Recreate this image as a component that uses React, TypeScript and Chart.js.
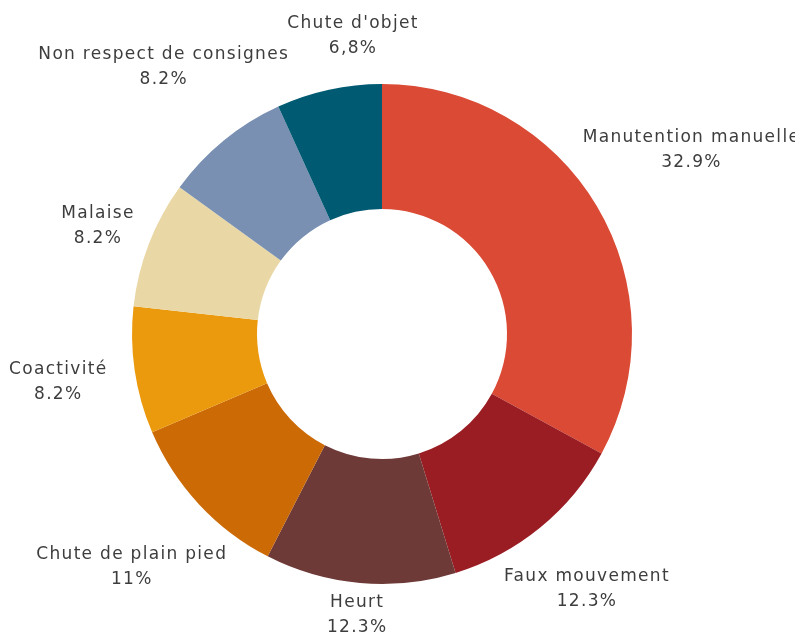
import React, { useEffect, useRef } from "react";
import { Chart, registerables } from "chart.js";

Chart.register(...registerables);

const categories = [
  "Manutention manuelle",
  "Faux mouvement",
  "Heurt",
  "Chute de plain pied",
  "Coactivité",
  "Malaise",
  "Non respect de consignes",
  "Chute d'objet",
];
const values = [32.9, 12.3, 12.3, 11, 8.2, 8.2, 8.2, 6.8];
const valueLabels = ["32.9%", "12.3%", "12.3%", "11%", "8.2%", "8.2%", "8.2%", "6,8%"];
const colors = [
  "#DA4A34",
  "#9B1D24",
  "#6E3A37",
  "#CC6A06",
  "#EB9A0E",
  "#E9D8A6",
  "#7990B2",
  "#005A72",
];

// label placement: radial distance as multiple of outer radius, angular tweak (deg)
const labelRadius = [1.44, 1.309, 1.13, 1.368, 1.309, 1.215, 1.379, 1.198];
const labelAngleTweak = [0, 0.5, 0, 0, 0, -0.4, 0, 6.7];

const labelPlugin = {
  id: "outerLabels",
  afterDatasetsDraw(chart: any) {
    const ctx = chart.ctx;
    const meta = chart.getDatasetMeta(0);
    ctx.save();
    ctx.font = "17px 'DejaVu Sans'";
    try {
      (ctx as any).letterSpacing = "1.3px";
    } catch (e) {}
    ctx.fillStyle = "#3d3d3d";
    ctx.textAlign = "center";
    ctx.textBaseline = "middle";
    meta.data.forEach((arc: any, i: number) => {
      const p = arc.getProps(["x", "y", "startAngle", "endAngle", "outerRadius"], true);
      const mid = (p.startAngle + p.endAngle) / 2 + (labelAngleTweak[i] * Math.PI) / 180;
      const r = p.outerRadius * labelRadius[i];
      const cx = p.x + Math.cos(mid) * r;
      const cy = p.y + Math.sin(mid) * r;
      ctx.fillText(categories[i], cx, cy - 12.5);
      ctx.fillText(valueLabels[i], cx, cy + 12.5);
    });
    ctx.restore();
  },
};

export default function App() {
  const ref = useRef<HTMLCanvasElement>(null);
  useEffect(() => {
    if (!ref.current) return;
    const chart = new Chart(ref.current, {
      type: "doughnut",
      data: {
        labels: categories,
        datasets: [
          {
            data: values,
            backgroundColor: colors,
            borderWidth: 0,
          },
        ],
      },
      options: {
        responsive: false,
        animation: false,
        cutout: "50%",
        layout: { padding: { left: 132, right: 163, top: 84, bottom: 48 } },
        plugins: {
          legend: { display: false },
          tooltip: { enabled: false },
        },
      },
      plugins: [labelPlugin],
    });
    return () => chart.destroy();
  }, []);
  return (
    <div style={{ position: "fixed", left: 0, top: 0, width: 795, height: 632, background: "#fff" }}>
      <canvas ref={ref} width={795} height={632} style={{ width: 795, height: 632 }} />
    </div>
  );
}
